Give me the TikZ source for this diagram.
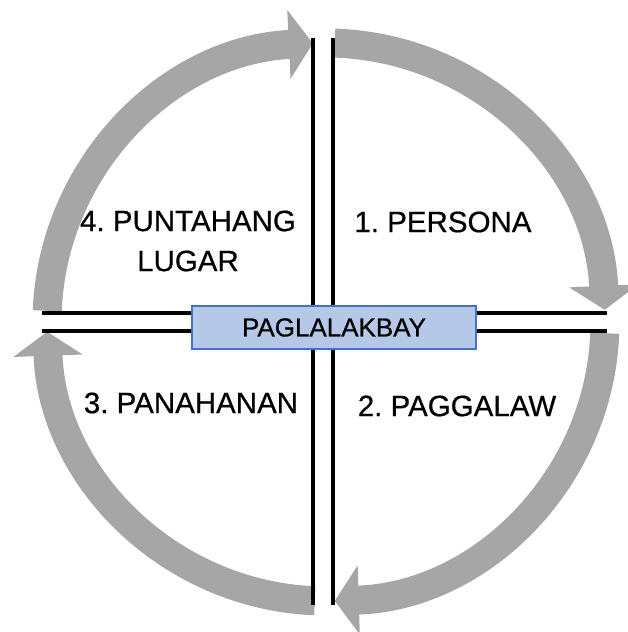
\documentclass[tikz,border=0pt]{standalone}
\usepackage{fontspec}
\setmainfont{Liberation Sans}[FakeBold=0.6]
\usetikzlibrary{arrows.meta}
\definecolor{ringgray}{RGB}{166,166,166}
\definecolor{hubfill}{RGB}{182,200,232}
\definecolor{hubdraw}{RGB}{68,114,196}
\frenchspacing
\begin{document}
\begin{tikzpicture}[x=1pt,y=1pt,
ring/.style={draw=ringgray,line width=29pt,-{Triangle[length=24pt,width=68pt]}},
divider/.style={line width=4pt},
quad/.style={font=\fontsize{29.5}{40}\selectfont,align=center},
hub/.style={draw=hubdraw,fill=hubfill,line width=1.2pt,minimum width=284pt,minimum height=43pt,font=\fontsize{26}{30}\selectfont}]
\useasboundingbox (-326,-310) rectangle (302,322);
% the four arrows of the cycle
\draw[ring] (88.2:279) arc[start angle=88.2,end angle=2.5,radius=279];
\draw[ring] (-2.3:279) arc[start angle=-2.3,end angle=-88.2,radius=279];
\draw[ring] (-92.3:279) arc[start angle=-92.3,end angle=-178,radius=279];
\draw[ring] (177.7:279) arc[start angle=177.7,end angle=92.7,radius=279];
% cross of double lines
\coordinate (vt1) at (-13,284); \coordinate (vb1) at (-13,-283);
\coordinate (vt2) at (7,284);   \coordinate (vb2) at (7,-283);
\coordinate (hl1) at (-284,9);  \coordinate (hr1) at (281,9);
\coordinate (hl2) at (-284,-9); \coordinate (hr2) at (281,-9);
\draw[divider] (vt1)--(vb1); \draw[divider] (vt2)--(vb2);
\draw[divider] (hl1)--(hr1); \draw[divider] (hl2)--(hr2);
\node[hub] (h) at (8,-5.5) {PAGLALAKBAY};
\node[quad] (q1) at (117,100) {1. PERSONA};
\node[quad] (q2) at (131,-84) {2. PAGGALAW};
\node[quad] (q3) at (-135,-81) {3. PANAHANAN};
\node[quad] (q4) at (-138,81) {4. PUNTAHANG\\LUGAR};
\end{tikzpicture}
\end{document}
